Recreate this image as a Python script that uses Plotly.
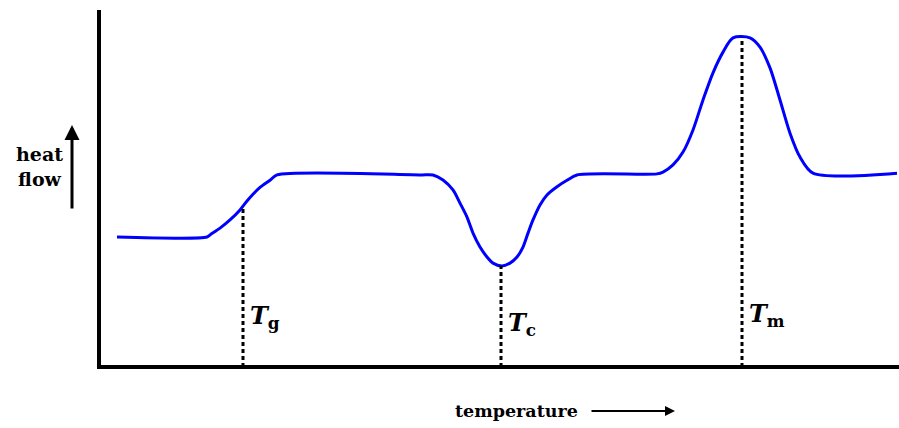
import numpy as np
import plotly.graph_objects as go

# DSC trace: temperature (arbitrary units) vs. heat flow (arbitrary units)
temperature = [2.25, 13.5, 13.875, 15.125, 16.375, 17.625, 18.5, 19.25,
               20.125, 21.375, 22.25,
               40.125, 41.75, 43.0, 44.25, 45.125, 46.0, 46.75, 47.625,
               48.5, 49.25, 50.375, 51.375, 52.25, 53.0, 53.625, 54.25,
               55.125, 56.0, 57.25, 58.5, 59.75,
               69.75, 70.5, 71.75, 73.0, 74.25, 75.5, 76.75, 78.0, 79.25,
               81.375, 82.625, 83.875, 85.125, 86.375, 87.625, 89.25, 99.75]
heat_flow = [36.4, 36.4, 37.0, 38.9, 41.2, 44.0, 46.5, 48.4,
             50.3, 52.3, 53.8,
             53.8, 53.8, 52.4, 49.6, 45.9, 42.0, 37.5, 33.6,
             30.8, 29.1, 28.3, 29.1, 30.8, 33.6, 37.5, 41.2,
             45.4, 48.2, 50.5, 52.3, 53.8,
             54.1, 54.6, 56.6, 60.2, 66.4, 74.8, 82.4, 88.2, 92.2,
             92.2, 89.6, 83.8, 74.8, 65.5, 58.8, 54.3, 54.3]

# Glass transition, crystallisation and melting temperatures
transition_subscripts = ["g", "c", "m"]
transition_temps = [18.0, 50.25, 80.375]

fig = go.Figure()

fig.add_trace(go.Scatter(
    x=temperature, y=heat_flow, mode="lines",
    line=dict(color="#0000ff", width=3, shape="spline", smoothing=0.8),
    hoverinfo="skip", showlegend=False,
))

label_offsets = {"g": (0.6, 13.9), "c": (0.6, 12.0), "m": (0.6, 14.5)}
for sub, t in zip(transition_subscripts, transition_temps):
    h = float(np.interp(t, temperature, heat_flow))
    fig.add_trace(go.Scatter(
        x=[t, t], y=[0, h], mode="lines",
        line=dict(color="black", width=3, dash="4px,3px"),
        hoverinfo="skip", showlegend=False,
    ))
    dx, yy = label_offsets[sub]
    fig.add_annotation(
        x=t + dx, y=yy, xref="x", yref="y",
        text=f"<b><i>T</i><sub>{sub}</sub></b>", showarrow=False,
        xanchor="left", yanchor="middle",
        font=dict(family="DejaVu Serif", size=24, color="black"),
    )

# y-axis caption with upward arrow
fig.add_annotation(
    x=-0.075, y=0.563, xref="paper", yref="paper",
    text="<b>heat<br>flow</b>", showarrow=False,
    xanchor="center", yanchor="middle",
    font=dict(family="DejaVu Serif", size=19, color="black"),
)
fig.add_annotation(
    x=-0.03375, y=0.678, xref="paper", yref="paper", ax=0, ay=85,
    text="", showarrow=True, arrowhead=2, arrowsize=1, arrowwidth=3,
    arrowcolor="black",
)

# x-axis caption with rightward arrow
fig.add_annotation(
    x=0.52125, y=-0.1232, xref="paper", yref="paper",
    text="<b>temperature</b>", showarrow=False,
    xanchor="center", yanchor="middle",
    font=dict(family="DejaVu Serif", size=17.5, color="black"),
)
fig.add_annotation(
    x=0.72, y=-0.1232, xref="paper", yref="paper", ax=-85, ay=0,
    text="", showarrow=True, arrowhead=2, arrowsize=1, arrowwidth=2,
    arrowcolor="black",
)

# axis lines
fig.add_shape(type="line", xref="paper", yref="paper",
              x0=0, y0=-0.0056, x1=0, y1=1,
              line=dict(color="black", width=4))
fig.add_shape(type="line", xref="paper", yref="paper",
              x0=-0.0025, y0=0, x1=1, y1=0,
              line=dict(color="black", width=4))

axis_common = dict(showgrid=False, zeroline=False, showticklabels=False,
                   ticks="", showline=False, fixedrange=True)
fig.update_xaxes(range=[0, 100], **axis_common)
fig.update_yaxes(range=[0, 100], **axis_common)

fig.update_layout(
    width=899, height=428,
    margin=dict(l=99, r=0, t=10, b=61),
    paper_bgcolor="white", plot_bgcolor="white",
)

fig.write_html("out.html")
